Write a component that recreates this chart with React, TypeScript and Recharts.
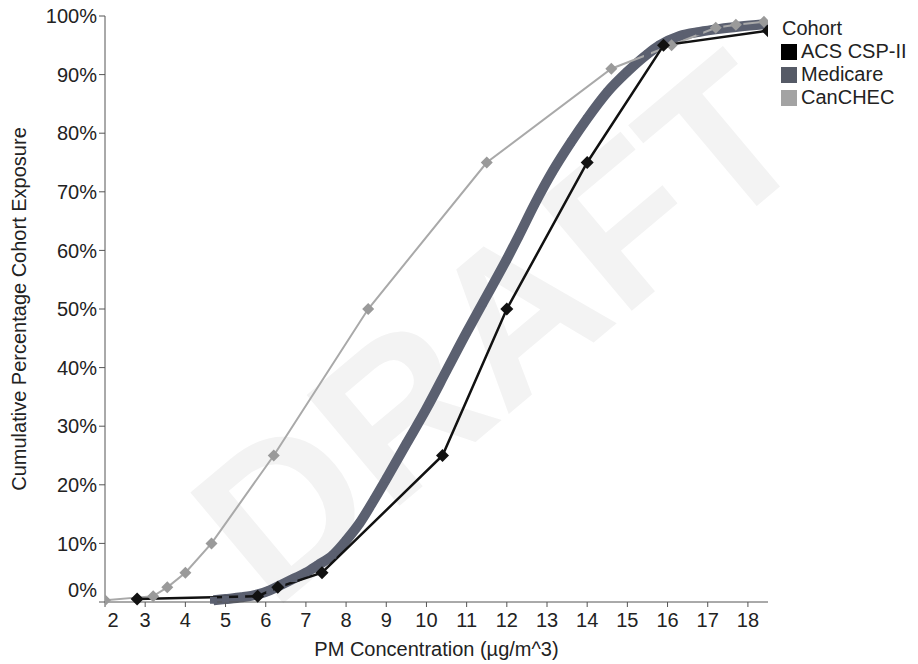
import { LineChart, Line, XAxis, YAxis, Label } from 'recharts';

// cumulative exposure curves, x = PM concentration, y = cumulative %
const acsX = [2.8, 5.8, 6.3, 7.4, 10.4, 12.0, 14.0, 15.9, 18.5];
const acsY = [0.5, 1, 2.5, 5, 25, 50, 75, 95, 97.5];

const medicareX = [
  4.7, 5.0, 5.4, 5.8, 6.1, 6.4, 6.7, 7.0, 7.3, 7.67, 8.0, 8.34, 8.7, 9.0, 9.5, 10.0, 10.5,
  11.0, 11.4, 12.0, 12.3, 12.7, 13.14, 13.6, 14.0, 14.5, 15.0, 15.5, 15.8, 16.3, 16.8, 17.3,
  17.8, 18.4,
];
const medicareY = [
  0.3, 0.5, 0.8, 1.3, 2, 3, 4, 5, 6.3, 8, 10.5, 13.5, 17.5, 21, 27, 33, 39.5,
  46, 51, 58.5, 62.5, 68, 73.5, 78.5, 82.5, 87, 90.5, 93.5, 95, 96.6, 97.3, 97.8,
  98.2, 98.6,
];

const canchecX = [2.0, 3.2, 3.55, 4.0, 4.65, 6.2, 8.55, 11.5, 14.6, 16.1, 17.2, 17.7, 18.4];
const canchecY = [0.3, 1, 2.5, 5, 10, 25, 50, 75, 91, 95, 98, 98.5, 99];

const xTicks = [2, 3, 4, 5, 6, 7, 8, 9, 10, 11, 12, 13, 14, 15, 16, 17, 18];
const yTicks = [0, 10, 20, 30, 40, 50, 60, 70, 80, 90, 100];

const seriesNames = ['ACS CSP-II', 'Medicare', 'CanCHEC'];
const legendColors = ['#000000', '#555a66', '#a3a3a3'];

const toPoints = (xs: number[], ys: number[]) => xs.map((x, i) => ({ x, y: ys[i] }));

const acsData = toPoints(acsX, acsY);
const medicareData = toPoints(medicareX, medicareY);
const canchecData = toPoints(canchecX, canchecY);

const FONT = '"Liberation Sans", Arial, sans-serif';

const diamond = (fill: string, s: number) => (props: any) => {
  const { cx, cy, index } = props;
  if (cx == null || cy == null) return <g key={`d-${index}`} />;
  return (
    <polygon
      key={`d-${index}`}
      points={`${cx},${cy - s} ${cx + s},${cy} ${cx},${cy + s} ${cx - s},${cy}`}
      fill={fill}
    />
  );
};

const square = (fill: string, s: number) => (props: any) => {
  const { cx, cy, index } = props;
  if (cx == null || cy == null) return <g key={`s-${index}`} />;
  return <rect key={`s-${index}`} x={cx - s / 2} y={cy - s / 2} width={s} height={s} fill={fill} />;
};

const XTick = (props: any) => {
  const { x, y, payload } = props;
  const shift = payload.value === 2 ? 8 : 0;
  return (
    <text x={x + shift} y={y} dy="0.71em" textAnchor="middle" fill="#222" fontSize={20} fontFamily={FONT}>
      {payload.value}
    </text>
  );
};

const YTick = (props: any) => {
  const { x, y, payload } = props;
  const shift = payload.value === 0 ? -12 : 0;
  return (
    <text x={x} y={y + shift} dy="0.355em" textAnchor="end" fill="#222" fontSize={20} fontFamily={FONT}>
      {payload.value}%
    </text>
  );
};

export default function App() {
  return (
    <div style={{ position: 'absolute', left: 0, top: 0, width: 918, height: 664, background: '#fff', fontFamily: FONT }}>
      <svg width={918} height={664} style={{ position: 'absolute', left: 0, top: 0 }}>
        <text
          x={500}
          y={400}
          transform="rotate(-40 500 330)"
          textAnchor="middle"
          fontSize={210}
          fontWeight="bold"
          fontFamily={FONT}
          fill="#f3f3f3"
        >
          DRAFT
        </text>
      </svg>
      <div style={{ position: 'absolute', left: 0, top: 0 }}>
        <LineChart width={918} height={664} margin={{ top: 16, right: 150, bottom: 0, left: 0 }}>
          <XAxis
            dataKey="x"
            type="number"
            domain={[2, 18.5]}
            ticks={xTicks}
            allowDataOverflow
            height={62}
            stroke="#555"
            tickSize={5}
            tickMargin={6}
            tick={<XTick />}
          >
            <Label
              value="PM Concentration (µg/m^3)"
              position="insideBottom"
              offset={8}
              fill="#222"
              fontSize={20}
              fontFamily={FONT}
            />
          </XAxis>
          <YAxis
            type="number"
            domain={[0, 100]}
            ticks={yTicks}
            width={105}
            stroke="#555"
            tickSize={6}
            tickMargin={2}
            tick={<YTick />}
          >
            <Label
              value="Cumulative Percentage Cohort Exposure"
              angle={-90}
              position="insideLeft"
              offset={19}
              style={{ textAnchor: 'middle' }}
              fill="#222"
              fontSize={20}
              fontFamily={FONT}
            />
          </YAxis>
          <Line
            data={medicareData}
            dataKey="y"
            type="monotone"
            stroke="#5b6070"
            strokeWidth={10}
            dot={square('#5b6070', 7)}
            isAnimationActive={false}
          />
          <Line
            data={canchecData}
            dataKey="y"
            type="linear"
            stroke="#a9a9a9"
            strokeWidth={2}
            dot={diamond('#9a9a9a', 6)}
            isAnimationActive={false}
          />
          <Line
            data={acsData}
            dataKey="y"
            type="linear"
            stroke="#111"
            strokeWidth={2.5}
            dot={diamond('#111', 6.5)}
            isAnimationActive={false}
          />
        </LineChart>
      </div>
      <div style={{ position: 'absolute', left: 781, top: 17, fontSize: 20, color: '#222', lineHeight: '23px' }}>
        <div style={{ marginLeft: 1 }}>Cohort</div>
        {seriesNames.map((name, i) => (
          <div key={name} style={{ display: 'flex', alignItems: 'center' }}>
            <span style={{ display: 'inline-block', width: 16, height: 16, background: legendColors[i], marginRight: 4 }} />
            {name}
          </div>
        ))}
      </div>
    </div>
  );
}
